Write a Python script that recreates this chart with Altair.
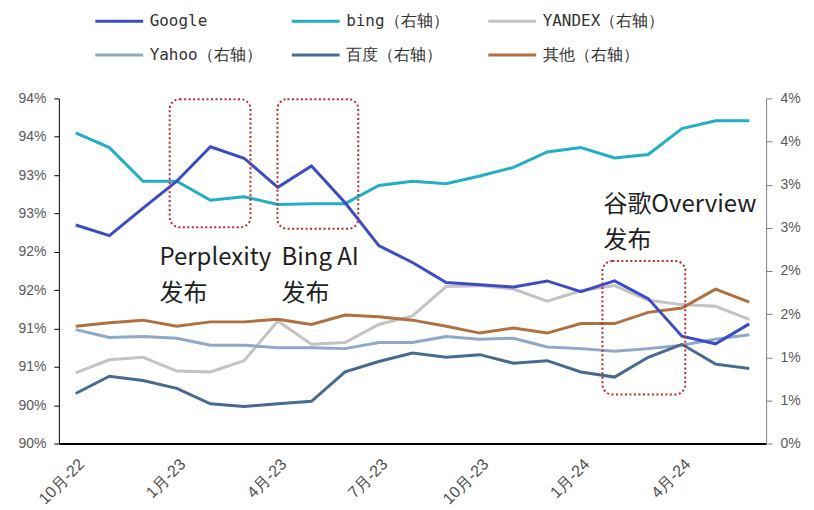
import json
import altair as alt
import pandas as pd

months = ["10月-22", "11月-22", "12月-22", "1月-23", "2月-23", "3月-23", "4月-23",
          "5月-23", "6月-23", "7月-23", "8月-23", "9月-23", "10月-23", "11月-23",
          "12月-23", "1月-24", "2月-24", "3月-24", "4月-24", "5月-24", "6月-24"]

google = [92.85, 92.71, 93.07, 93.42, 93.87, 93.72, 93.34, 93.62, 93.14, 92.58, 92.36,
          92.10, 92.07, 92.04, 92.12, 91.98, 92.12, 91.89, 91.40, 91.30, 91.56]
bing = [3.60, 3.43, 3.04, 3.04, 2.82, 2.86, 2.77, 2.78, 2.78, 2.99, 3.04,
        3.01, 3.10, 3.20, 3.38, 3.43, 3.31, 3.35, 3.65, 3.74, 3.74]
yandex = [0.82, 0.97, 1.00, 0.84, 0.83, 0.96, 1.42, 1.15, 1.17, 1.38, 1.48,
          1.82, 1.83, 1.79, 1.65, 1.77, 1.83, 1.66, 1.61, 1.59, 1.44]
yahoo = [1.32, 1.23, 1.24, 1.22, 1.14, 1.14, 1.11, 1.11, 1.10, 1.17, 1.17,
         1.24, 1.21, 1.22, 1.12, 1.10, 1.07, 1.10, 1.14, 1.21, 1.26]
baidu = [0.58, 0.78, 0.73, 0.64, 0.46, 0.43, 0.46, 0.49, 0.83, 0.95, 1.05,
         1.00, 1.03, 0.93, 0.96, 0.83, 0.77, 1.00, 1.15, 0.92, 0.87]
other = [1.36, 1.40, 1.43, 1.36, 1.41, 1.41, 1.44, 1.38, 1.49, 1.47, 1.43,
         1.36, 1.28, 1.34, 1.28, 1.39, 1.39, 1.52, 1.57, 1.79, 1.64]

series_names = ["Google", "bing（右轴）", "YANDEX（右轴）", "Yahoo（右轴）", "百度（右轴）", "其他（右轴）"]
series_colors = ["#3B4CC6", "#22AEC5", "#C3C3C3", "#8FA7C8", "#486A90", "#B0703F"]

left_ticks = [90 + 0.5 * i for i in range(10)]
right_ticks = [0.5 * i for i in range(9)]
x_tick_idx = list(range(0, 21, 3))

# annotations (in data units: month index, left-axis value)
ann_labels = ["Perplexity\n发布", "Bing AI\n发布", "谷歌Overview\n发布"]
ann_tx = [2.49, 6.11, 15.67]
ann_ty = [92.33, 92.33, 93.02]
box_x0 = [2.79, 5.99, 15.64]
box_x1 = [5.19, 8.39, 18.10]
box_y0 = [92.82, 92.80, 90.64]
box_y1 = [94.49, 94.49, 92.38]

rows = []
for name, vals in zip(series_names, [google, bing, yandex, yahoo, baidu, other]):
    for i, (m, v) in enumerate(zip(months, vals)):
        rows.append({"idx": i, "month": m, "series": name, "value": v})
df = pd.DataFrame(rows)

boxes = pd.DataFrame({"x0": box_x0, "x1": box_x1, "y0": box_y0, "y1": box_y1})
texts = pd.DataFrame({"tx": ann_tx, "ty": ann_ty, "label": ann_labels})

x_scale = alt.Scale(domain=[-0.5, 20.5], nice=False, zero=False)
x_axis = alt.Axis(values=x_tick_idx,
                  labelExpr=json.dumps(months, ensure_ascii=False) + "[datum.value]",
                  labelAngle=-45, labelAlign="right", labelBaseline="top",
                  ticks=False, grid=False, domainColor="#000000", domainWidth=2,
                  labelFont="Liberation Sans", labelFontSize=16, labelColor="#505050",
                  labelPadding=12, labelBound=False, labelOverlap=False, title=None)

left_scale = alt.Scale(domain=[90, 94.5], nice=False, zero=False)
left_axis = alt.Axis(orient="left", values=left_ticks, labelExpr="floor(datum.value) + '%'",
                     grid=False, domainColor="#000000", tickColor="#000000", tickSize=5,
                     labelFont="Liberation Sans", labelFontSize=14, labelColor="#595959",
                     labelPadding=8, title=None)
right_scale = alt.Scale(domain=[0, 4], nice=False, zero=False)
right_axis = alt.Axis(orient="right", values=right_ticks, labelExpr="ceil(datum.value) + '%'",
                      grid=False, domainColor="#808080", tickColor="#808080", tickSize=6,
                      labelFont="Liberation Sans", labelFontSize=14, labelColor="#595959",
                      labelPadding=8, title=None)

color = alt.Color("series:N",
                  scale=alt.Scale(domain=series_names, range=series_colors),
                  sort=series_names,
                  legend=alt.Legend(title=None, orient="none", legendX=35, legendY=-103,
                                    direction="horizontal",
                                    columns=3, gridAlign="all", columnPadding=14,
                                    rowPadding=-4, symbolType="stroke", symbolSize=2304,
                                    symbolStrokeWidth=3, labelFont="DejaVu Sans Mono",
                                    labelFontSize=16, labelColor="#333333", labelOffset=5,
                                    padding=0))

right = alt.Chart(df).transform_filter(alt.datum.series != "Google").mark_line(strokeWidth=3).encode(
    x=alt.X("idx:Q", scale=x_scale, axis=x_axis),
    y=alt.Y("value:Q", scale=right_scale, axis=right_axis),
    color=color,
)

google_line = alt.Chart(df).transform_filter(alt.datum.series == "Google").mark_line(strokeWidth=3).encode(
    x=alt.X("idx:Q", scale=x_scale, axis=x_axis),
    y=alt.Y("value:Q", scale=left_scale, axis=left_axis),
    color=color,
)

box_layer = alt.Chart(boxes).mark_rect(fillOpacity=0, stroke="#C0282D", strokeWidth=2,
                                        strokeDash=[2, 2.5], cornerRadius=10).encode(
    x=alt.X("x0:Q", scale=x_scale, axis=x_axis),
    x2="x1:Q",
    y=alt.Y("y0:Q", scale=left_scale, axis=left_axis),
    y2="y1:Q",
)

text_layer = alt.Chart(texts).mark_text(align="left", baseline="alphabetic", lineBreak="\n",
                                         lineHeight=36, font="Noto Sans CJK SC", fontSize=24,
                                         color="#1f1f1f").encode(
    x=alt.X("tx:Q", scale=x_scale, axis=x_axis),
    y=alt.Y("ty:Q", scale=left_scale, axis=left_axis),
    text="label:N",
)

left_group = alt.layer(google_line, box_layer, text_layer)

chart = alt.layer(right, left_group).resolve_scale(y="independent").properties(
    width=709, height=346,
    autosize=alt.AutoSizeParams(type="none"),
    padding={"left": 51, "top": 90, "right": 40, "bottom": 64},
    background="white",
).configure_view(stroke=None)

chart.save("out.html", embed_options={"renderer": "svg", "actions": False})
